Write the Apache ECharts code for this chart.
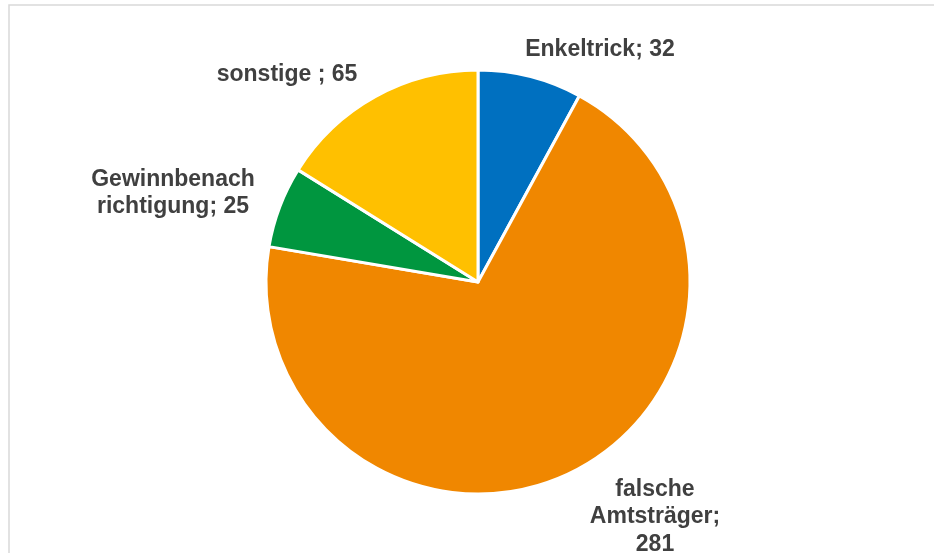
<!DOCTYPE html>
<html>
<head>
<meta charset="utf-8">
<script src="https://cdn.jsdelivr.net/npm/echarts@6/dist/echarts.min.js"></script>
<style>
html,body{margin:0;padding:0;background:#fff;}
#c{width:934px;height:553px;}
</style>
</head>
<body>
<div id="c"></div>
<script>
// Data
const categories = ['Enkeltrick', 'falsche Amtsträger', 'Gewinnbenachrichtigung', 'sonstige '];
const values = [32, 281, 25, 65];
const colors = ['#0070C0', '#F08700', '#00963F', '#FFC000'];
// Label text wrapping (as in the reference)
const labelNames = ['Enkeltrick', 'falsche\nAmtsträger', 'Gewinnbenach\nrichtigung', 'sonstige '];
const labelSeparators = [' ', '\n', ' ', ' '];
// Label anchor positions (layout only)
const labelPos = [[600, 50], [655, 517], [173, 193], [287, 75]];

const chart = echarts.init(document.getElementById('c'), null, {renderer: 'canvas'});
chart.setOption({
  animation: false,
  backgroundColor: '#ffffff',
  graphic: [{
    type: 'rect',
    shape: {x: 9, y: 5, width: 1200, height: 1200},
    style: {fill: 'none', stroke: '#d9d9d9', lineWidth: 1.5},
    silent: true,
    z: 0
  }],
  series: [{
    type: 'pie',
    center: [478, 282],
    radius: 212,
    startAngle: 90,
    clockwise: true,
    avoidLabelOverlap: false,
    emphasis: {disabled: true},
    itemStyle: {borderColor: '#ffffff', borderWidth: 3},
    label: {
      show: true,
      position: 'outside',
      fontFamily: 'Liberation Sans, Arial, sans-serif',
      fontSize: 23,
      fontWeight: 'bold',
      color: '#404040',
      lineHeight: 27.5,
      align: 'center',
      formatter: function (p) {
        return labelNames[p.dataIndex] + ';' + labelSeparators[p.dataIndex] + p.value;
      }
    },
    labelLine: {show: false},
    labelLayout: function (params) {
      const pos = labelPos[params.dataIndex];
      return {x: pos[0], y: pos[1], align: 'center', verticalAlign: 'middle'};
    },
    data: categories.map((c, i) => ({name: c, value: values[i], itemStyle: {color: colors[i]}}))
  }]
});
</script>
</body>
</html>
